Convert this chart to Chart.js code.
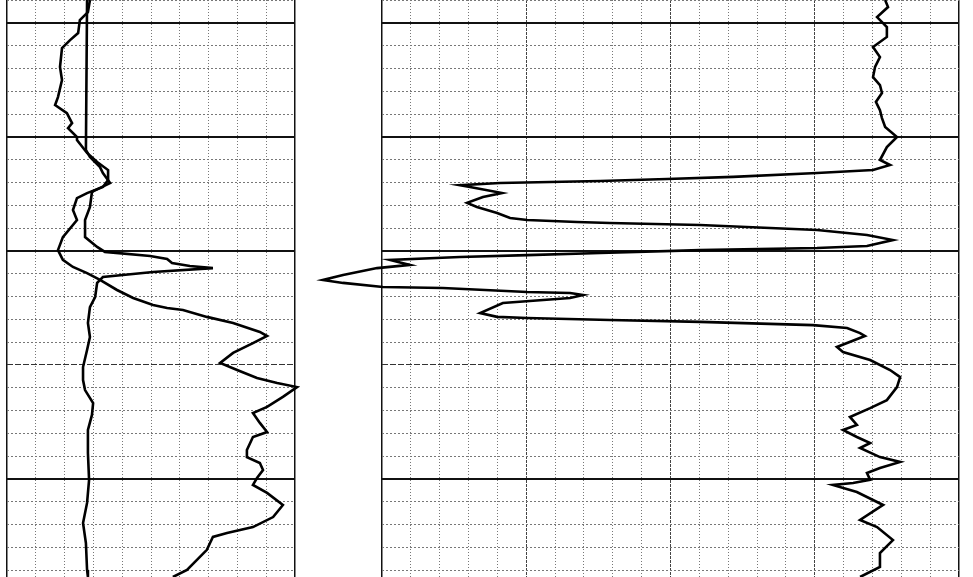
<!DOCTYPE html>
<html>
<head>
<meta charset="utf-8">
<title>Well log</title>
<script src="https://cdn.jsdelivr.net/npm/chart.js@4.4.1/dist/chart.umd.min.js"></script>
<style>
  body { margin: 0; background: #fff; }
  .track { position: absolute; top: 0; }
  #leftTrack { left: 0; width: 310px; height: 577px; }
  #rightTrack { left: 300px; width: 673px; height: 577px; }
</style>
</head>
<body>
<canvas id="leftTrack" class="track" width="310" height="577"></canvas>
<canvas id="rightTrack" class="track" width="673" height="577"></canvas>
<script>
// depth window and grid (10 ft per division)
const depthMin = 4989.9;
const depthMax = 5243.0;
const depthTicks = [4990, 5000, 5010, 5020, 5030, 5040, 5050, 5060, 5070, 5080, 5090,
  5100, 5110, 5120, 5130, 5140, 5150, 5160, 5170, 5180, 5190, 5200, 5210, 5220, 5230, 5240];
const heavyDepths = [5000, 5050, 5100, 5200];
const mediumDepths = [5150];

// left track: gamma ray curve
const grDepth = [4989.9, 4995.2, 4998.7, 5004.4, 5007.5, 5011.0, 5019.3, 5025.0, 5032.5, 5036.0,
  5039.5, 5043.9, 5046.1, 5050.0, 5051.3, 5057.0, 5061.0, 5064.5, 5068.9, 5071.9,
  5074.6, 5076.8, 5082.0, 5086.4, 5093.9, 5099.6, 5103.9, 5107.0, 5109.7, 5112.7,
  5117.1, 5120.6, 5123.7, 5125.0, 5125.9, 5128.9, 5131.6, 5135.5, 5137.3, 5140.4,
  5144.7, 5149.1, 5152.2, 5155.7, 5157.9, 5159.7, 5164.0, 5168.4, 5171.1, 5175.4,
  5179.4, 5181.6, 5187.3, 5190.4, 5193.0, 5196.1, 5199.6, 5202.6, 5206.1, 5211.4,
  5216.7, 5221.1, 5223.7, 5225.4, 5228.1, 5231.1, 5239.9, 5243.0];
const grValue = [28.8, 28.1, 25.3, 24.7, 21.9, 19.1, 18.4, 19.1, 17.7, 16.7,
  20.8, 22.6, 21.2, 24.3, 24.3, 27.8, 31.3, 35.1, 35.1, 33.3,
  27.8, 24.3, 22.9, 24.3, 19.4, 17.7, 19.4, 22.9, 27.8, 32.3,
  38.2, 43.8, 50.7, 55.6, 61.1, 69.4, 78.5, 87.8, 90.3, 85.4,
  78.5, 74.0, 79.9, 86.8, 93.8, 100.7, 95.8, 90.3, 85.4, 87.8,
  90.3, 85.4, 83.3, 83.3, 87.8, 88.9, 86.8, 85.4, 90.3, 95.8,
  92.4, 85.4, 76.4, 71.5, 70.5, 69.4, 62.5, 57.6];

// left track: SP curve
const spDepth = [4989.9, 5055.7, 5058.8, 5063.2, 5065.8, 5070.2, 5074.1, 5080.7, 5086.4, 5093.9,
  5098.2, 5100.4, 5102.2, 5103.5, 5105.3, 5106.6, 5107.5, 5109.2, 5111.4, 5114.0,
  5120.2, 5124.6, 5131.6, 5137.7, 5143.4, 5150.9, 5156.6, 5161.0, 5166.7, 5171.9,
  5178.5, 5188.6, 5200.4, 5210.5, 5219.3, 5228.1, 5239.9, 5243.0];
const spValue = [27.8, 27.4, 28.8, 32.3, 33.3, 35.8, 29.5, 28.8, 27.1, 27.1,
  31.3, 34.0, 49.7, 55.6, 57.3, 63.5, 71.5, 50.7, 33.3, 31.3,
  30.6, 28.8, 28.1, 28.8, 27.8, 26.4, 26.4, 27.1, 29.9, 29.5,
  28.1, 28.1, 28.5, 27.8, 26.4, 27.4, 27.8, 28.1];

// right track: resistivity curve
const resDepth = [4989.9, 4993.0, 4997.4, 5001.8, 5006.1, 5010.5, 5014.9, 5019.3, 5023.7, 5027.2,
  5030.7, 5034.6, 5038.2, 5041.7, 5045.6, 5050.0, 5054.4, 5060.1, 5062.3, 5064.5,
  5065.8, 5067.5, 5068.4, 5069.3, 5070.2, 5071.1, 5071.9, 5074.6, 5076.3, 5078.9,
  5080.7, 5082.0, 5083.3, 5085.5, 5086.4, 5087.3, 5087.7, 5088.6, 5090.8, 5093.0,
  5095.2, 5097.8, 5098.7, 5099.6, 5100.9, 5101.8, 5102.6, 5103.9, 5106.1, 5107.5,
  5110.5, 5112.7, 5114.0, 5115.8, 5116.2, 5118.0, 5118.4, 5119.3, 5120.6, 5122.8,
  5127.2, 5128.9, 5129.4, 5130.3, 5131.1, 5132.5, 5133.8, 5136.0, 5137.3, 5142.1,
  5144.3, 5147.8, 5152.2, 5155.3, 5159.7, 5165.4, 5168.9, 5172.8, 5176.3, 5178.5,
  5181.6, 5184.2, 5186.4, 5190.4, 5192.5, 5195.2, 5197.4, 5200.4, 5201.8, 5202.6,
  5205.7, 5211.4, 5218.0, 5221.1, 5226.8, 5232.5, 5238.6, 5243.0];
const resValue = [174.4, 175.4, 171.6, 175.0, 175.0, 170.2, 172.6, 170.9, 170.2, 172.6,
  173.3, 171.2, 172.6, 173.3, 174.4, 178.5, 175.0, 172.6, 176.1, 170.2,
  150.8, 121.7, 98.8, 75.6, 40.9, 27.0, 30.5, 41.6, 35.0, 29.5,
  32.9, 36.4, 39.9, 44.4, 50.3, 67.6, 79.0, 110.2, 150.8, 168.1,
  177.1, 168.1, 150.8, 110.2, 75.6, 50.3, 27.0, 2.8, 9.7, -1.7,
  -13.5, -20.5, -13.5, 0.3, 21.1, 50.3, 65.2, 69.7, 65.2, 41.9,
  34.0, 39.9, 50.3, 79.0, 110.2, 149.4, 161.2, 165.7, 167.4, 157.7,
  159.8, 169.2, 176.1, 179.6, 178.5, 175.0, 169.2, 162.2, 164.6, 159.8,
  164.6, 169.2, 165.7, 172.6, 179.6, 172.6, 168.1, 169.2, 163.3, 156.3,
  164.6, 173.7, 165.7, 171.6, 177.1, 172.6, 172.6, 165.7];

function toPoints(depths, values) {
  return depths.map((d, i) => ({ x: values[i], y: d }));
}

function curve(depths, values) {
  return {
    data: toPoints(depths, values),
    showLine: true,
    borderColor: '#000',
    borderWidth: 2.6,
    pointRadius: 0,
    tension: 0,
    clip: false
  };
}

function depthAxis() {
  return {
    type: 'linear',
    reverse: true,
    min: depthMin,
    max: depthMax,
    ticks: { display: false },
    afterBuildTicks: function (axis) {
      axis.ticks = depthTicks.map(v => ({ value: v }));
    },
    grid: {
      drawTicks: false,
      color: c => {
        if (heavyDepths.includes(c.tick.value)) return '#111';
        return mediumDepths.includes(c.tick.value) ? '#333' : '#777';
      },
      lineWidth: c => (heavyDepths.includes(c.tick.value) ? 2 : 1)
    },
    border: {
      display: false,
      dash: c => {
        if (heavyDepths.includes(c.tick.value)) return [];
        return mediumDepths.includes(c.tick.value) ? [6, 2] : [2, 2];
      }
    }
  };
}

function valueAxis(max, heavyEvery) {
  return {
    type: 'linear',
    min: 0,
    max: max,
    ticks: { display: false, stepSize: 10 },
    grid: {
      drawTicks: false,
      color: c => {
        const v = c.tick.value;
        if (v === 0 || v === max) return '#111';
        return v % heavyEvery === 0 ? '#444' : '#777';
      },
      lineWidth: c => (c.tick.value === 0 || c.tick.value === max ? 1.5 : 1)
    },
    border: {
      display: false,
      dash: c => {
        const v = c.tick.value;
        if (v === 0 || v === max) return [];
        return v % heavyEvery === 0 ? [3, 1] : [1, 2];
      }
    }
  };
}

function baseOptions(pad) {
  return {
    responsive: false,
    animation: false,
    events: [],
    layout: { padding: pad },
    plugins: { legend: { display: false }, tooltip: { enabled: false } }
  };
}

const leftOptions = baseOptions({ left: 7, right: 15, top: 0, bottom: 0 });
leftOptions.scales = { x: valueAxis(100, 1000), y: depthAxis() };

new Chart(document.getElementById('leftTrack'), {
  type: 'scatter',
  data: { datasets: [curve(spDepth, spValue), curve(grDepth, grValue)] },
  options: leftOptions
});

const rightOptions = baseOptions({ left: 82, right: 14, top: 0, bottom: 0 });
rightOptions.scales = { x: valueAxis(200, 50), y: depthAxis() };

new Chart(document.getElementById('rightTrack'), {
  type: 'scatter',
  data: { datasets: [curve(resDepth, resValue)] },
  options: rightOptions
});
</script>
</body>
</html>
